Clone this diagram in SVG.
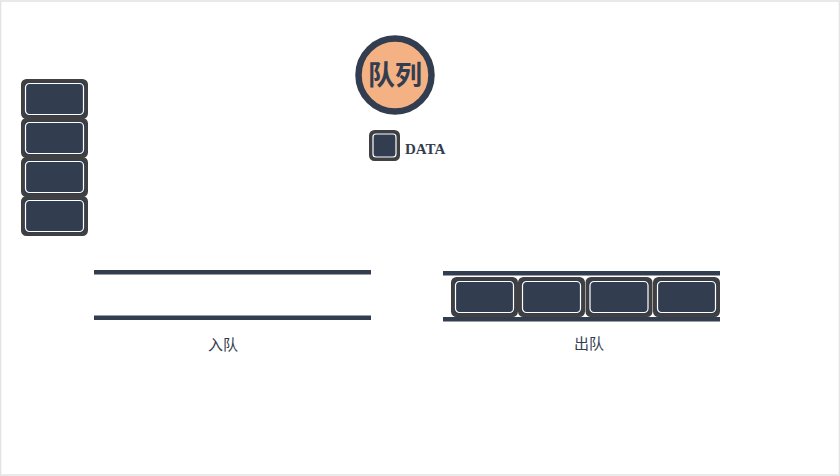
<svg xmlns="http://www.w3.org/2000/svg" width="840" height="476" viewBox="0 0 840 476">
<style>
.outer{fill:#333d50;stroke:#404040;stroke-width:3}
.inner{fill:none;stroke:#ffffff;stroke-width:1.2}
.bar{fill:#333d50}
.lbl{font-family:"Liberation Serif","Noto Sans CJK SC",serif;font-size:15px;fill:#333d50;text-anchor:middle}
</style>
<defs>
<g id="blk">
<rect class="outer" x="0" y="0" width="64" height="37" rx="4"/>
<rect class="inner" x="3" y="3" width="58" height="31" rx="4"/>
</g>
</defs>
<rect x="0.5" y="1" width="839" height="474" fill="#ffffff" stroke="#e2e2e2" stroke-width="1.5"/>
<g id="title">
<circle cx="395" cy="75" r="36.5" fill="#f4b183" stroke="#333d50" stroke-width="6.5"/>
<text x="395" y="85" font-family="Liberation Serif,'Noto Sans CJK SC',serif" font-weight="bold" font-size="27" fill="#333d50" text-anchor="middle">队列</text>
</g>
<g id="legend">
<rect class="outer" x="370.5" y="131.5" width="28" height="28" rx="4" stroke-width="2"/>
<rect class="inner" x="373" y="134" width="23" height="23" rx="3"/>
<text x="405" y="154" font-family="Liberation Serif,serif" font-weight="bold" font-size="15" fill="#333d50">DATA</text>
</g>
<g id="stack">
<use href="#blk" x="22.5" y="80.5"/>
<use href="#blk" x="22.5" y="119.5"/>
<use href="#blk" x="22.5" y="158.5"/>
<use href="#blk" x="22.5" y="197.5"/>
</g>
<g id="enqueue">
<rect class="bar" x="94" y="270" width="277" height="4.5"/>
<rect class="bar" x="94" y="315.5" width="277" height="4.5"/>
<text class="lbl" x="223" y="350">入队</text>
</g>
<g id="dequeue">
<rect class="bar" x="443" y="271" width="277" height="4.5"/>
<rect class="bar" x="443" y="317" width="277" height="4.5"/>
<use href="#blk" x="452.5" y="278.5"/>
<use href="#blk" x="519.5" y="278.5"/>
<use href="#blk" x="587" y="278.5"/>
<use href="#blk" x="654.5" y="278.5"/>
<text class="lbl" x="589" y="349">出队</text>
</g>
<g id="connectors"></g>
</svg>
